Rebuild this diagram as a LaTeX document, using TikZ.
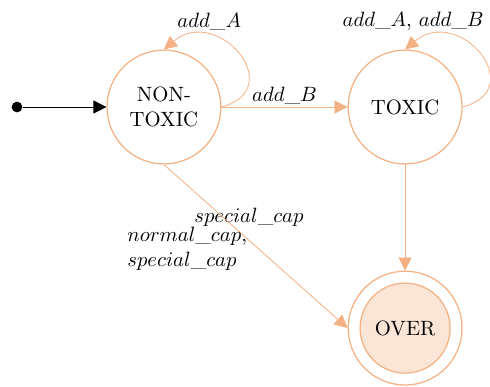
\documentclass[tikz,border=0pt]{standalone}
\usepackage{amsmath}
\usepackage{amssymb}
\usepackage{tikz}
\usetikzlibrary{arrows.meta, positioning}
\definecolor{peach}{RGB}{244,177,131}
\definecolor{peachfill}{RGB}{251,229,214}

\begin{document}
\begin{tikzpicture}[>={Triangle[length=6.3pt,width=6.3pt]},auto,
  state node/.style={circle,draw=peach,line width=0.6pt,minimum size=55pt,
  inner sep=0pt,align=center},
  final node/.style={circle,draw=peach,fill=peachfill,line width=0.6pt,
  minimum size=43.5pt,inner sep=0pt},
  start dot/.style={circle,fill=black,inner sep=0pt,minimum size=5.2pt}]
  \useasboundingbox (-79.2pt,-135.2pt) rectangle (157.5pt,51.7pt);
  \node[state node] (NT) {NON-\\TOXIC};
  \node[state node] (TX) [right=60.9pt of NT] {TOXIC};
  \node[state node] (OV) [below=51.2pt of TX] {};
  \node[final node] (OVin) at (OV) {OVER};
  \node[start dot] (S) [left=40.4pt of NT] {};

  \draw[->,line width=0.4pt] (S) -- (NT);

  \path[every edge/.style={draw=peach,->,line width=0.4pt},
  	every node/.style={text=black}]
    (NT.east) edge[out=15, in=40, looseness=2.2]
      node[pos=0.75, above, inner sep=2pt, xshift=2pt, yshift=1pt] {$add\_A$} (NT.north)
    (NT) edge node[above, inner sep=1pt] {$add\_B$} (TX)
    (TX.east) edge[out=15, in=40, looseness=2.2]
      node[pos=0.75, above, inner sep=2pt, xshift=-16pt, yshift=1pt] {$add\_A$, $add\_B$} (TX.north)
    (TX) edge node[midway, left=45.5pt] {$special\_cap$} (OV)
    (NT.south) edge node[pos=0.515, left, xshift=-2pt, align=left]
      {$normal\_cap$,\\$special\_cap$} (OV.west);
\end{tikzpicture}
\end{document}
